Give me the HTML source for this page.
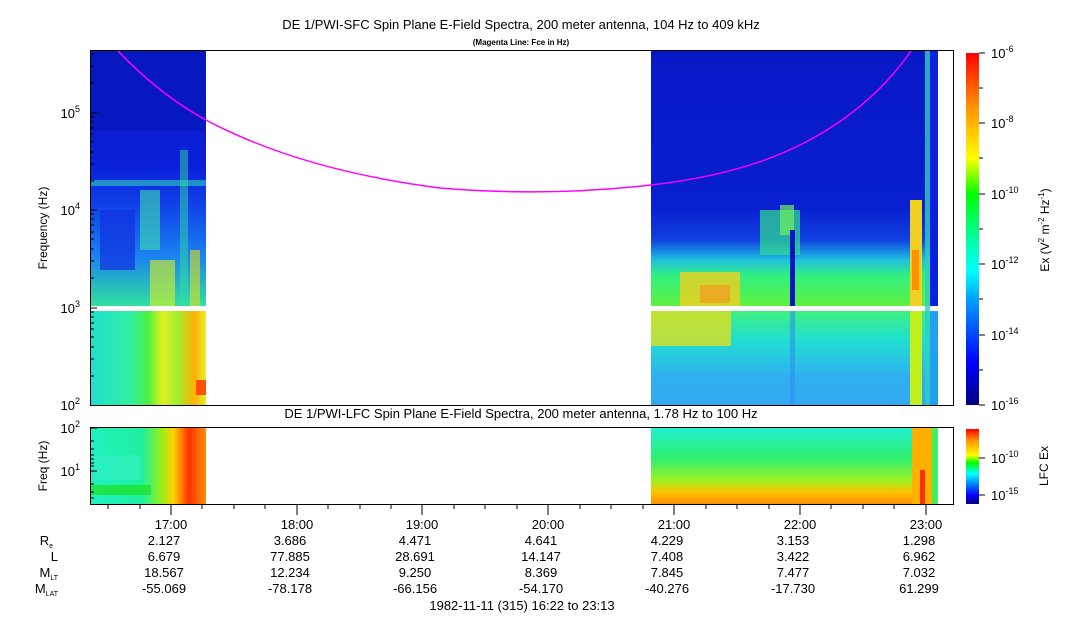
<!DOCTYPE html>
<html><head><meta charset="utf-8"><style>
body{margin:0;background:#fff;}
svg text{font-family:"Liberation Sans",sans-serif;fill:#000;}
</style></head><body>
<svg width="1083" height="620" viewBox="0 0 1083 620" xmlns="http://www.w3.org/2000/svg">
<defs>
<linearGradient id="cb" x1="0" y1="1" x2="0" y2="0">
<stop offset="0" stop-color="#000080"/><stop offset="0.12" stop-color="#0000ff"/><stop offset="0.3" stop-color="#00a0ff"/><stop offset="0.38" stop-color="#00ffff"/><stop offset="0.5" stop-color="#00ff80"/><stop offset="0.6" stop-color="#00ff00"/><stop offset="0.7" stop-color="#ffff00"/><stop offset="0.85" stop-color="#ff9000"/><stop offset="1" stop-color="#ff0000"/></linearGradient>
<linearGradient id="cb2" x1="0" y1="1" x2="0" y2="0">
<stop offset="0" stop-color="#000080"/><stop offset="0.12" stop-color="#0000ff"/><stop offset="0.3" stop-color="#00a0ff"/><stop offset="0.4" stop-color="#00ffff"/><stop offset="0.55" stop-color="#00ff00"/><stop offset="0.65" stop-color="#ffff00"/><stop offset="0.85" stop-color="#ff9000"/><stop offset="1" stop-color="#ff0000"/></linearGradient>
<linearGradient id="lTop" x1="0" y1="0" x2="0" y2="1">
<stop offset="0" stop-color="#0818c8"/><stop offset="0.45" stop-color="#0a20d8"/><stop offset="0.6" stop-color="#1040e8"/><stop offset="0.8" stop-color="#1a80f0"/><stop offset="1" stop-color="#30e0a0"/></linearGradient>
<linearGradient id="lBot" x1="0" y1="0" x2="1" y2="0">
<stop offset="0" stop-color="#20e0d0"/><stop offset="0.35" stop-color="#30f0a0"/><stop offset="0.5" stop-color="#50f040"/><stop offset="0.62" stop-color="#e0f020"/><stop offset="0.75" stop-color="#a0f030"/><stop offset="0.9" stop-color="#ffb000"/><stop offset="1" stop-color="#e0f030"/></linearGradient>
<linearGradient id="rTop" x1="0" y1="0" x2="0" y2="1">
<stop offset="0" stop-color="#0818c8"/><stop offset="0.62" stop-color="#0820d0"/><stop offset="0.74" stop-color="#1040e0"/><stop offset="0.82" stop-color="#20c0e0"/><stop offset="0.88" stop-color="#30f080"/><stop offset="1" stop-color="#60f040"/></linearGradient>
<linearGradient id="rBot" x1="0" y1="0" x2="0" y2="1">
<stop offset="0" stop-color="#40f080"/><stop offset="0.3" stop-color="#20e0d0"/><stop offset="0.7" stop-color="#30b0f0"/><stop offset="1" stop-color="#30a8f0"/></linearGradient>
<linearGradient id="lfL" x1="0" y1="0" x2="1" y2="0">
<stop offset="0" stop-color="#20f0c0"/><stop offset="0.45" stop-color="#20f0a0"/><stop offset="0.6" stop-color="#90f020"/><stop offset="0.72" stop-color="#ffd000"/><stop offset="0.85" stop-color="#ff3000"/><stop offset="1" stop-color="#ff9000"/></linearGradient>
<linearGradient id="lfR" x1="0" y1="0" x2="0" y2="1">
<stop offset="0" stop-color="#20f0d0"/><stop offset="0.4" stop-color="#30f070"/><stop offset="0.7" stop-color="#a0f020"/><stop offset="0.85" stop-color="#ffc000"/><stop offset="1" stop-color="#ff9000"/></linearGradient>
</defs>

<text x="521" y="29" font-size="13" text-anchor="middle">DE 1/PWI-SFC  Spin Plane E-Field Spectra, 200 meter antenna, 104 Hz to 409 kHz</text>
<text x="521" y="45" font-size="8" font-weight="bold" text-anchor="middle">(Magenta Line: Fce in Hz)</text>
<text x="521" y="418" font-size="13" text-anchor="middle">DE 1/PWI-LFC  Spin Plane E-Field Spectra, 200 meter antenna, 1.78 Hz to 100 Hz</text>

<rect x="91" y="51" width="115" height="255" fill="url(#lTop)"/>
<rect x="91" y="51" width="115" height="80" fill="#0818c0"/>
<rect x="91" y="180" width="115" height="6" fill="#30d0c0" opacity="0.6"/>
<rect x="140" y="190" width="20" height="60" fill="#40e0b0" opacity="0.6"/>
<rect x="100" y="210" width="35" height="60" fill="#1030e0" opacity="0.7"/>
<rect x="150" y="260" width="25" height="46" fill="#e0f020" opacity="0.6"/>
<rect x="180" y="150" width="8" height="156" fill="#30e0a0" opacity="0.5"/>
<rect x="190" y="250" width="10" height="56" fill="#e0e020" opacity="0.6"/>
<rect x="91" y="311" width="115" height="94" fill="url(#lBot)"/>
<rect x="196" y="380" width="10" height="15" fill="#ff5000"/>

<rect x="651" y="51" width="287" height="255" fill="url(#rTop)"/>
<rect x="680" y="272" width="60" height="34" fill="#f0d020" opacity="0.8"/>
<rect x="700" y="285" width="30" height="18" fill="#f0a020" opacity="0.8"/>
<rect x="760" y="210" width="40" height="45" fill="#30e090" opacity="0.7"/>
<rect x="780" y="205" width="14" height="30" fill="#70f060" opacity="0.7"/>
<rect x="790" y="230" width="5" height="76" fill="#0818c0"/>
<rect x="651" y="311" width="287" height="94" fill="url(#rBot)"/>
<rect x="651" y="311" width="80" height="35" fill="#e0e020" opacity="0.8"/>
<rect x="790" y="311" width="5" height="94" fill="#3090f0" opacity="0.6"/>
<rect x="910" y="200" width="12" height="106" fill="#f0d020"/>
<rect x="912" y="250" width="7" height="40" fill="#ff9000"/>
<rect x="910" y="311" width="12" height="94" fill="#c0f020"/>
<rect x="925" y="51" width="5" height="354" fill="#30d0c0" opacity="0.8"/>
<rect x="930" y="51" width="8" height="255" fill="#0a20e0"/>
<rect x="930" y="311" width="8" height="94" fill="#20a0f0"/>

<path d="M118,51 Q160,95 206,120 M651,185 Q740,175 800,145 Q870,110 911,51" stroke="#ff00ff" stroke-width="1.5" fill="none"/>
<path d="M206,120 Q300,170 440,188 Q545,197 651,185" stroke="#ff00ff" stroke-width="1.5" fill="none"/>

<rect x="90.5" y="50.5" width="863" height="355" fill="none" stroke="#000"/>
<g stroke="#000">
<line x1="91" y1="113" x2="97" y2="113"/><line x1="91" y1="210" x2="97" y2="210"/><line x1="91" y1="308" x2="97" y2="308"/>
<line x1="91" y1="83" x2="94" y2="83"/><line x1="91" y1="66" x2="94" y2="66"/><line x1="91" y1="54" x2="94" y2="54"/>
<line x1="91" y1="181" x2="94" y2="181"/><line x1="91" y1="164" x2="94" y2="164"/><line x1="91" y1="152" x2="94" y2="152"/><line x1="91" y1="142" x2="94" y2="142"/><line x1="91" y1="134" x2="94" y2="134"/><line x1="91" y1="128" x2="94" y2="128"/><line x1="91" y1="122" x2="94" y2="122"/><line x1="91" y1="117" x2="94" y2="117"/>
<line x1="91" y1="278" x2="94" y2="278"/><line x1="91" y1="261" x2="94" y2="261"/><line x1="91" y1="249" x2="94" y2="249"/><line x1="91" y1="239" x2="94" y2="239"/><line x1="91" y1="232" x2="94" y2="232"/><line x1="91" y1="225" x2="94" y2="225"/><line x1="91" y1="219" x2="94" y2="219"/><line x1="91" y1="214" x2="94" y2="214"/>
<line x1="91" y1="376" x2="94" y2="376"/><line x1="91" y1="359" x2="94" y2="359"/><line x1="91" y1="347" x2="94" y2="347"/><line x1="91" y1="337" x2="94" y2="337"/><line x1="91" y1="329" x2="94" y2="329"/><line x1="91" y1="323" x2="94" y2="323"/><line x1="91" y1="317" x2="94" y2="317"/><line x1="91" y1="312" x2="94" y2="312"/>
</g>
<g font-size="13" text-anchor="end">
<text x="80" y="118">10<tspan font-size="9" dy="-6">5</tspan></text>
<text x="80" y="215">10<tspan font-size="9" dy="-6">4</tspan></text>
<text x="80" y="313">10<tspan font-size="9" dy="-6">3</tspan></text>
<text x="80" y="410">10<tspan font-size="9" dy="-6">2</tspan></text>
</g>
<text transform="translate(47,228) rotate(-90)" font-size="12" text-anchor="middle">Frequency (Hz)</text>

<rect x="966" y="53" width="13" height="352" fill="url(#cb)"/>
<g stroke="#000"><line x1="979" y1="53" x2="985" y2="53"/><line x1="979" y1="123" x2="985" y2="123"/><line x1="979" y1="194" x2="985" y2="194"/><line x1="979" y1="264" x2="985" y2="264"/><line x1="979" y1="335" x2="985" y2="335"/><line x1="979" y1="405" x2="985" y2="405"/>
<line x1="979" y1="88" x2="983" y2="88"/><line x1="979" y1="158" x2="983" y2="158"/><line x1="979" y1="229" x2="983" y2="229"/><line x1="979" y1="299" x2="983" y2="299"/><line x1="979" y1="370" x2="983" y2="370"/></g>
<g font-size="13">
<text x="991" y="58">10<tspan font-size="9" dy="-6">-6</tspan></text>
<text x="991" y="128">10<tspan font-size="9" dy="-6">-8</tspan></text>
<text x="991" y="199">10<tspan font-size="9" dy="-6">-10</tspan></text>
<text x="991" y="269">10<tspan font-size="9" dy="-6">-12</tspan></text>
<text x="991" y="340">10<tspan font-size="9" dy="-6">-14</tspan></text>
<text x="991" y="410">10<tspan font-size="9" dy="-6">-16</tspan></text>
</g>
<text transform="translate(1049,230) rotate(-90)" font-size="12" text-anchor="middle">Ex (V<tspan font-size="8" dy="-5">2</tspan><tspan dy="5"> m</tspan><tspan font-size="8" dy="-5">-2</tspan><tspan dy="5"> Hz</tspan><tspan font-size="8" dy="-5">-1</tspan><tspan dy="5">)</tspan></text>

<rect x="91" y="428" width="115" height="76" fill="url(#lfL)"/>
<rect x="91" y="455" width="50" height="25" fill="#30f0c0" opacity="0.6"/>
<rect x="91" y="485" width="60" height="10" fill="#20e020" opacity="0.7"/>
<rect x="651" y="428" width="287" height="76" fill="url(#lfR)"/>
<rect x="912" y="428" width="20" height="76" fill="#ffb000"/>
<rect x="920" y="470" width="5" height="34" fill="#ff3000"/>
<rect x="932" y="428" width="6" height="76" fill="#40f060"/>
<rect x="90.5" y="427.5" width="863" height="77" fill="none" stroke="#000"/>
<g stroke="#000"><line x1="91" y1="428" x2="97" y2="428"/><line x1="91" y1="471" x2="97" y2="471"/>
<line x1="91" y1="441" x2="94" y2="441"/><line x1="91" y1="449" x2="94" y2="449"/><line x1="91" y1="455" x2="94" y2="455"/><line x1="91" y1="459" x2="94" y2="459"/><line x1="91" y1="463" x2="94" y2="463"/><line x1="91" y1="466" x2="94" y2="466"/>
<line x1="91" y1="484" x2="94" y2="484"/><line x1="91" y1="492" x2="94" y2="492"/><line x1="91" y1="498" x2="94" y2="498"/></g>
<g font-size="13" text-anchor="end">
<text x="80" y="433">10<tspan font-size="9" dy="-6">2</tspan></text>
<text x="80" y="476">10<tspan font-size="9" dy="-6">1</tspan></text>
</g>
<text transform="translate(47,466) rotate(-90)" font-size="12" text-anchor="middle">Freq (Hz)</text>
<rect x="966" y="429" width="13" height="75" fill="url(#cb2)"/>
<g stroke="#000"><line x1="979" y1="458" x2="985" y2="458"/><line x1="979" y1="495" x2="985" y2="495"/></g>
<g font-size="13"><text x="991" y="463">10<tspan font-size="9" dy="-6">-10</tspan></text><text x="991" y="500">10<tspan font-size="9" dy="-6">-15</tspan></text></g>
<text transform="translate(1048,466) rotate(-90)" font-size="12" text-anchor="middle">LFC Ex</text>

<g stroke="#000">
<line x1="171" y1="504" x2="171" y2="515"/><line x1="297" y1="504" x2="297" y2="515"/><line x1="422" y1="504" x2="422" y2="515"/><line x1="548" y1="504" x2="548" y2="515"/><line x1="674" y1="504" x2="674" y2="515"/><line x1="800" y1="504" x2="800" y2="515"/><line x1="926" y1="504" x2="926" y2="515"/>
<line x1="108" y1="504" x2="108" y2="509"/><line x1="140" y1="504" x2="140" y2="509"/><line x1="202" y1="504" x2="202" y2="509"/><line x1="234" y1="504" x2="234" y2="509"/><line x1="265" y1="504" x2="265" y2="509"/><line x1="328" y1="504" x2="328" y2="509"/><line x1="360" y1="504" x2="360" y2="509"/><line x1="391" y1="504" x2="391" y2="509"/><line x1="454" y1="504" x2="454" y2="509"/><line x1="485" y1="504" x2="485" y2="509"/><line x1="517" y1="504" x2="517" y2="509"/><line x1="580" y1="504" x2="580" y2="509"/><line x1="611" y1="504" x2="611" y2="509"/><line x1="643" y1="504" x2="643" y2="509"/><line x1="706" y1="504" x2="706" y2="509"/><line x1="737" y1="504" x2="737" y2="509"/><line x1="769" y1="504" x2="769" y2="509"/><line x1="831" y1="504" x2="831" y2="509"/><line x1="863" y1="504" x2="863" y2="509"/><line x1="894" y1="504" x2="894" y2="509"/>
</g>
<g font-size="13" text-anchor="middle">
<text x="171" y="529">17:00</text><text x="297" y="529">18:00</text><text x="422" y="529">19:00</text><text x="548" y="529">20:00</text><text x="674" y="529">21:00</text><text x="800" y="529">22:00</text><text x="926" y="529">23:00</text>
<text x="164" y="545">2.127</text><text x="290" y="545">3.686</text><text x="415" y="545">4.471</text><text x="541" y="545">4.641</text><text x="667" y="545">4.229</text><text x="793" y="545">3.153</text><text x="919" y="545">1.298</text>
<text x="164" y="561">6.679</text><text x="290" y="561">77.885</text><text x="415" y="561">28.691</text><text x="541" y="561">14.147</text><text x="667" y="561">7.408</text><text x="793" y="561">3.422</text><text x="919" y="561">6.962</text>
<text x="164" y="577">18.567</text><text x="290" y="577">12.234</text><text x="415" y="577">9.250</text><text x="541" y="577">8.369</text><text x="667" y="577">7.845</text><text x="793" y="577">7.477</text><text x="919" y="577">7.032</text>
<text x="164" y="593">-55.069</text><text x="290" y="593">-78.178</text><text x="415" y="593">-66.156</text><text x="541" y="593">-54.170</text><text x="667" y="593">-40.276</text><text x="793" y="593">-17.730</text><text x="919" y="593">61.299</text>
<text x="522" y="610">1982-11-11 (315) 16:22 to 23:13</text>
</g>
<g font-size="13" text-anchor="end">
<text x="53" y="545">R<tspan font-size="7" dy="3">e</tspan></text>
<text x="58" y="561">L</text>
<text x="58" y="577">M<tspan font-size="7" dy="3">LT</tspan></text>
<text x="58" y="593">M<tspan font-size="7" dy="3">LAT</tspan></text>
</g>
</svg>
</body></html>
